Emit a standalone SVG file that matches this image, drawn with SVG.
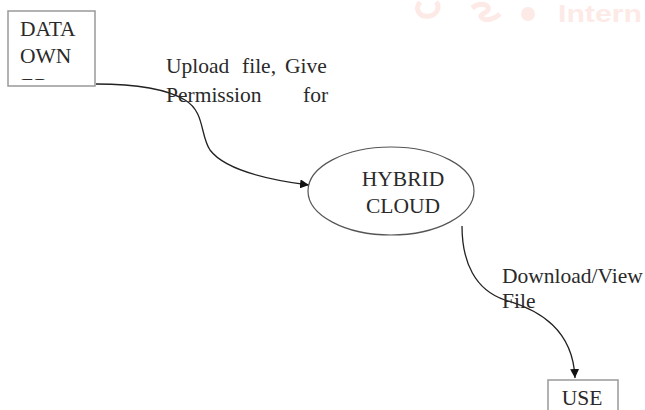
<svg xmlns="http://www.w3.org/2000/svg" width="645" height="410" viewBox="0 0 645 410">
<defs>
<style>
.t{font-family:"Liberation Serif","Times New Roman",serif;font-size:21.5px;fill:#2a2a2a}
.box{fill:#fff;stroke:#999;stroke-width:1.5}
.conn{fill:none;stroke:#222;stroke-width:1.3}
.wm{fill:none;stroke:#fdeae7;stroke-width:5}
</style>
<marker id="arr" viewBox="0 0 10 10" refX="10" refY="5" markerWidth="9" markerHeight="9" markerUnits="userSpaceOnUse" orient="auto">
<path d="M0,0 L10,5 L0,10 z" fill="#111"/>
</marker>
<clipPath id="ownclip"><rect x="8" y="11" width="87" height="69"/></clipPath>
</defs>
<rect width="645" height="410" fill="#fff"/>
<g id="watermark">
<path class="wm" d="M420,2 C414,10 420,18 430,16 C438,14 440,6 436,2"/>
<path class="wm" d="M472,8 C480,2 490,4 488,10 C486,14 478,14 482,18 C486,22 496,18 500,14"/>
<circle cx="528" cy="14" r="7" fill="#fdeae7"/>
<text x="558" y="22" textLength="84" lengthAdjust="spacingAndGlyphs" style="font-family:'Liberation Sans',Arial,sans-serif;font-size:24px;font-weight:bold;fill:#fdeae7">Intern</text>
</g>
<g id="connectors">
<path class="conn" d="M96,84 C130,84 165,88 185,100 C205,112 200,135 210,150 C225,170 270,180 309,185" marker-end="url(#arr)"/>
<path class="conn" d="M462,226 C462,262 475,290 505,300 C540,310 573,330 575,378" marker-end="url(#arr)"/>
</g>
<g id="data-owner">
<rect class="box" x="8" y="11" width="87" height="75"/>
<text class="t" x="20" y="36">DATA</text>
<text class="t" x="20" y="63">OWN</text>
<text class="t" x="21" y="93" clip-path="url(#ownclip)">ER</text>
</g>
<g id="hybrid-cloud">
<ellipse cx="391" cy="191" rx="83" ry="44" fill="#fff" stroke="#555" stroke-width="1.2"/>
<text class="t" x="403" y="186" text-anchor="middle">HYBRID</text>
<text class="t" x="403" y="213" text-anchor="middle">CLOUD</text>
</g>
<g id="user">
<rect class="box" x="548" y="380" width="70" height="40"/>
<text class="t" x="582" y="405" text-anchor="middle">USE</text>
</g>
<g id="labels">
<text class="t" x="166" y="73">Upload</text>
<text class="t" x="242" y="73">file,</text>
<text class="t" x="285" y="73">Give</text>
<text class="t" x="166" y="102">Permission</text>
<text class="t" x="303" y="102">for</text>
<text class="t" x="502" y="283">Download/View</text>
<text class="t" x="502" y="308">File</text>
</g>
</svg>
